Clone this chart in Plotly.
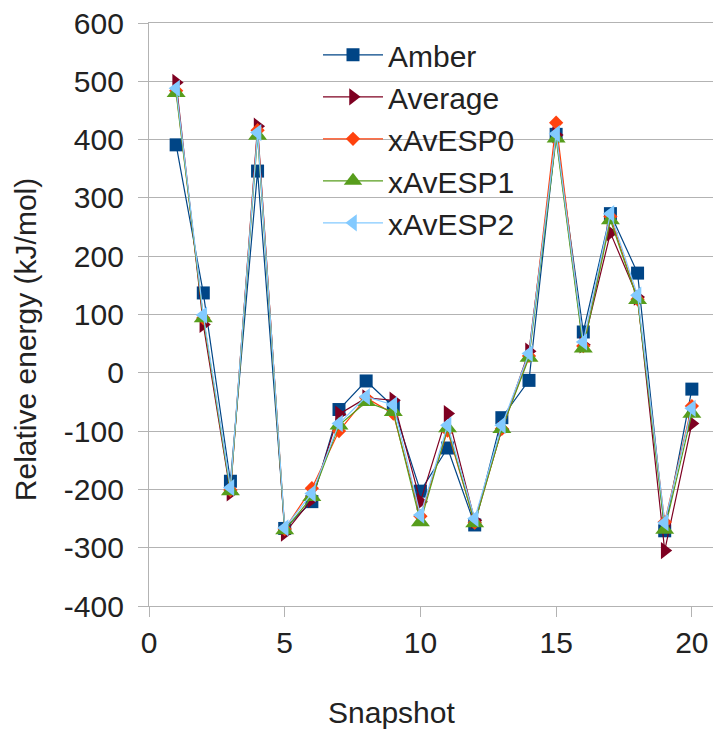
import plotly.graph_objects as go

snapshots = list(range(1, 21))
amber = [391, 137, -186, 346, -267, -221, -63, -14, -58, -203, -129, -261, -77, -13, 409, 70, 273, 171, -271, -28]
average = [498, 83, -206, 423, -275, -217, -71, -43, -47, -221, -70, -253, -97, 37, 408, 48, 240, 130, -305, -87]
xavesp0 = [484, 94, -201, 416, -268, -198, -100, -43, -70, -246, -99, -257, -96, 29, 429, 46, 268, 126, -256, -57]
xavesp1 = [480, 94, -203, 407, -270, -213, -90, -50, -67, -256, -95, -258, -96, 26, 402, 42, 262, 125, -269, -70]
xavesp2 = [488, 99, -197, 412, -266, -207, -87, -41, -55, -244, -90, -250, -90, 33, 410, 53, 273, 133, -257, -61]

x_ticks = [0, 5, 10, 15, 20]
y_ticks = [-400, -300, -200, -100, 0, 100, 200, 300, 400, 500, 600]
y_tick_labels = ["-400", "-300", "-200", "-100", "0", "100", "200", "300", "400", "500", "600"]

series = [
    ("Amber", amber, "#004586", "square", 13),
    ("Average", average, "#7E0021", "triangle-right", 15),
    ("xAvESP0", xavesp0, "#FF420E", "diamond", 11),
    ("xAvESP1", xavesp1, "#579D1C", "triangle-up", 16.5),
    ("xAvESP2", xavesp2, "#83CAFF", "triangle-left", 15),
]

fig = go.Figure()
for name, vals, color, sym, size in series:
    fig.add_trace(go.Scatter(
        x=snapshots, y=vals, name=name, mode="lines+markers",
        line=dict(color=color, width=1.2),
        marker=dict(symbol=sym, size=size, color=color, line=dict(width=0)),
    ))

font = "Liberation Sans, Arial, sans-serif"
grid = "#b3b3b3"
fsize = 30
# page body has an 8px margin, so the figure is offset by 8px
fig.update_layout(
    width=713, height=722,
    margin=dict(l=141, r=2, t=15, b=124),
    paper_bgcolor="white", plot_bgcolor="white",
    font=dict(family=font, size=fsize, color="#222222"),
    showlegend=True,
    legend=dict(
        x=0.2965, y=0.99, xanchor="left", yanchor="top",
        bgcolor="rgba(0,0,0,0)", borderwidth=0,
        font=dict(size=fsize), itemwidth=60, tracegroupgap=0,
    ),
    xaxis=dict(
        range=[0, 21], tickvals=x_ticks,
        showgrid=False, zeroline=False, automargin=False,
        showline=True, linecolor=grid, linewidth=1.3, mirror=True,
        ticks="outside", ticklen=10, tickcolor=grid, ticklabeloverflow="allow",
    ),
    yaxis=dict(
        range=[-400, 600], tickvals=y_ticks, ticktext=y_tick_labels,
        showgrid=True, gridcolor=grid, gridwidth=1.3, zeroline=False, automargin=False,
        showline=True, linecolor=grid, linewidth=1.3, mirror=True,
        ticks="outside", ticklen=10, tickcolor=grid, ticklabelstandoff=8,
        ticklabeloverflow="allow",
    ),
    annotations=[
        dict(text="Snapshot", xref="paper", yref="paper", x=0.426, y=-0.183,
             xanchor="center", yanchor="middle", showarrow=False,
             font=dict(size=fsize)),
        dict(text="Relative energy (kJ/mol)", xref="paper", yref="paper", x=-0.2175, y=0.456,
             xanchor="center", yanchor="middle", textangle=-90, showarrow=False,
             font=dict(size=fsize)),
    ],
)

fig.write_html("out.html")
